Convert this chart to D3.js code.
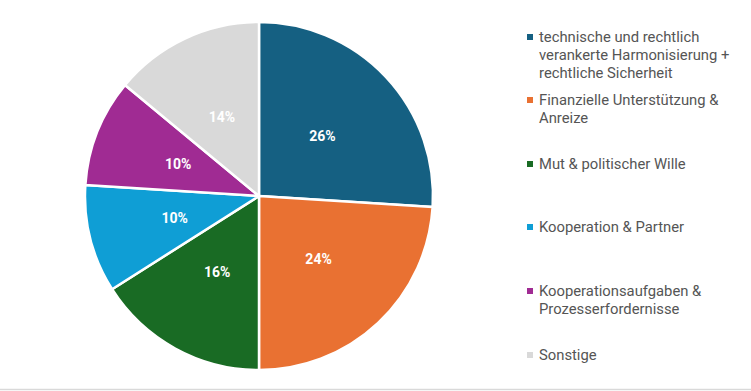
<!DOCTYPE html>
<html><head><meta charset="utf-8">
<script src="https://cdn.jsdelivr.net/npm/d3@7/dist/d3.min.js"></script>
<style>html,body{margin:0;padding:0;background:#fff;}svg{display:block;}</style>
</head><body>
<svg id="chart" width="751" height="391"></svg>
<script>
const categories = [
  ["technische und rechtlich", "verankerte Harmonisierung +", "rechtliche Sicherheit"],
  ["Finanzielle Unterstützung &", "Anreize"],
  ["Mut & politischer Wille"],
  ["Kooperation & Partner"],
  ["Kooperationsaufgaben &", "Prozesserfordernisse"],
  ["Sonstige"]
];
const values = [26, 24, 16, 10, 10, 14];
const colors = ["#156082", "#E97132", "#196B24", "#0F9ED5", "#A02B93", "#D9D9D9"];
const legendY = [37, 100, 164, 227, 291, 355];

const svg = d3.select("#chart");
const cx = 259, cy = 196, r = 174;
const data = values.map((v, i) => ({v, i}));
const pie = d3.pie().value(d => d.v).sort(null);
const arcs = pie(data);
const arc = d3.arc().innerRadius(0).outerRadius(r);
const labelArc = d3.arc().innerRadius(r * 0.5).outerRadius(r * 0.5);

const g = svg.append("g").attr("transform", `translate(${cx},${cy})`);
g.selectAll("path").data(arcs).join("path")
  .attr("d", arc)
  .attr("fill", d => colors[d.data.i])
  .attr("stroke", "#fff")
  .attr("stroke-width", 2.5)
  .attr("stroke-linejoin", "round");

g.selectAll("text").data(arcs).join("text")
  .attr("transform", d => `translate(${labelArc.centroid(d)})`)
  .attr("text-anchor", "middle")
  .attr("dy", "0.35em")
  .attr("fill", "#fff")
  .attr("font-family", "Roboto, sans-serif")
  .attr("font-weight", "bold")
  .attr("font-size", 14)
  .text(d => d.data.v + "%");

const lg = svg.append("g");
categories.forEach((lines, i) => {
  const y0 = legendY[i];
  lg.append("rect").attr("x", 527).attr("y", y0 - 3).attr("width", 6).attr("height", 6).attr("fill", colors[i]);
  const t = lg.append("text")
    .attr("x", 539).attr("y", y0)
    .attr("fill", "#555555")
    .attr("font-family", "Roboto, sans-serif")
    .attr("font-size", 14.8);
  lines.forEach((ln, j) => {
    t.append("tspan").attr("x", 539).attr("dy", j === 0 ? "0.36em" : 18).text(ln);
  });
});

svg.append("line").attr("x1", 0).attr("x2", 751).attr("y1", 389.5).attr("y2", 389.5)
  .attr("stroke", "#d9d9d9").attr("stroke-width", 1.5);
</script>
</body></html>
